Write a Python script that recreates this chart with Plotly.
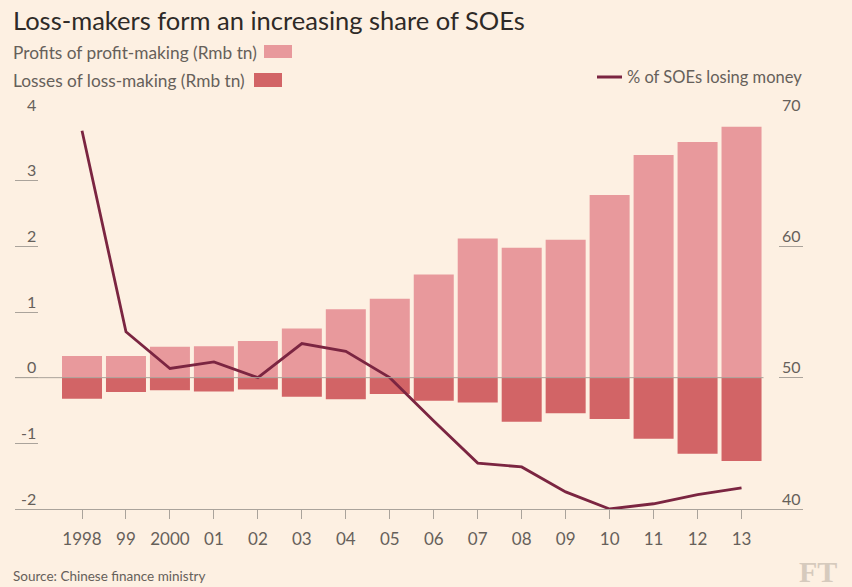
import plotly.graph_objects as go

# ---- data ----
years = ["1998", "99", "2000", "01", "02", "03", "04", "05",
         "06", "07", "08", "09", "10", "11", "12", "13"]
profits = [0.33, 0.33, 0.47, 0.48, 0.56, 0.75, 1.04, 1.20,
           1.57, 2.12, 1.98, 2.10, 2.78, 3.39, 3.59, 3.82]
losses = [-0.32, -0.22, -0.19, -0.21, -0.18, -0.29, -0.33, -0.25,
          -0.35, -0.38, -0.67, -0.54, -0.63, -0.93, -1.16, -1.27]
pct_losing = [68.8, 53.5, 50.7, 51.2, 50.0, 52.6, 52.0, 50.0,
              46.7, 43.5, 43.2, 41.3, 40.0, 40.4, 41.1, 41.6]
left_ticks = [-2, -1, 0, 1, 2, 3, 4]
right_ticks = [40, 50, 60, 70]

title = "Loss-makers form an increasing share of SOEs"
profit_label = "Profits of profit-making (Rmb tn)"
loss_label = "Losses of loss-making (Rmb tn)"
pct_label = "% of SOEs losing money"
source = "Source: Chinese finance ministry"

# ---- style ----
W, H = 852, 587
ML, MR, MT, MB = 15, 49, 115, 78
BG = "#fdf0e2"
PROFIT_C = "#e8999c"
LOSS_C = "#d26466"
LINE_C = "#7b2541"
GRID_C = "#aaa39b"
TEXT_C = "#66605a"
FONT = "Lato"
XR = [-1.524, 16.398]


def px(x):
    return (x - ML) / (W - ML - MR)


def py(y):
    return (H - MB - y) / (H - MT - MB)


fig = go.Figure()
fig.add_trace(go.Bar(x=years, y=profits, marker=dict(color=PROFIT_C, line_width=0),
                     name=profit_label, yaxis="y"))
fig.add_trace(go.Bar(x=years, y=losses, marker=dict(color=LOSS_C, line_width=0),
                     name=loss_label, yaxis="y"))
fig.add_trace(go.Scatter(x=years, y=pct_losing, mode="lines", yaxis="y2",
                         line=dict(color=LINE_C, width=2.8), cliponaxis=False,
                         name=pct_label))

fig.update_layout(
    width=W, height=H,
    margin=dict(l=ML, r=MR, t=MT, b=MB),
    paper_bgcolor=BG, plot_bgcolor=BG,
    barmode="relative", bargap=0.09,
    showlegend=False,
    font=dict(family=FONT, color=TEXT_C),
    xaxis=dict(type="category", range=XR, showgrid=False, zeroline=False,
               showline=True, linecolor=GRID_C, linewidth=1,
               ticks="outside", ticklen=9, tickcolor=GRID_C, tickwidth=1,
               tickfont=dict(size=17, color=TEXT_C), ticklabelstandoff=6),
    yaxis=dict(range=[-2, 4], showgrid=False, zeroline=False, showline=False,
               tickvals=left_ticks, ticks="inside", ticklen=23,
               tickcolor=GRID_C, tickwidth=1, showticklabels=False),
    yaxis2=dict(range=[40, 70], overlaying="y", side="right", showgrid=False,
                zeroline=False, showline=False, tickvals=right_ticks,
                ticks="inside", ticklen=24, tickcolor=GRID_C, tickwidth=1,
                showticklabels=False),
)

# zero line across the bars
fig.add_shape(type="line", xref="x", yref="y", x0=XR[0], x1=15.5, y0=0, y1=0,
              line=dict(color=GRID_C, width=1), layer="above")

ann = []
for v in left_ticks:
    ann.append(dict(xref="paper", yref="y", x=px(38), y=v, yshift=11,
                    text=str(v), showarrow=False, xanchor="right", yanchor="middle",
                    font=dict(size=16, color=TEXT_C)))
for v in right_ticks:
    ann.append(dict(xref="paper", yref="y2", x=px(803), y=v, yshift=11,
                    text=str(v), showarrow=False, xanchor="right", yanchor="middle",
                    font=dict(size=16, color=TEXT_C)))

ann.append(dict(xref="paper", yref="paper", x=px(11), y=py(20), text=title,
                showarrow=False, xanchor="left", yanchor="middle",
                font=dict(size=25.5, color="#2e2a27")))
ann.append(dict(xref="paper", yref="paper", x=px(11), y=py(52), text=profit_label,
                showarrow=False, xanchor="left", yanchor="middle",
                font=dict(size=17.3, color=TEXT_C)))
ann.append(dict(xref="paper", yref="paper", x=px(11), y=py(80), text=loss_label,
                showarrow=False, xanchor="left", yanchor="middle",
                font=dict(size=17.3, color=TEXT_C)))
ann.append(dict(xref="paper", yref="paper", x=px(804), y=py(77), text=pct_label,
                showarrow=False, xanchor="right", yanchor="middle",
                font=dict(size=16.5, color=TEXT_C)))
ann.append(dict(xref="paper", yref="paper", x=px(11), y=py(576), text=source,
                showarrow=False, xanchor="left", yanchor="middle",
                font=dict(size=13.5, color=TEXT_C)))
ann.append(dict(xref="paper", yref="paper", x=px(839), y=py(571), text="<b>FT</b>",
                showarrow=False, xanchor="right", yanchor="middle",
                font=dict(size=30, color="#d6cabd", family="Liberation Serif")))
fig.update_layout(annotations=ann)

# legend swatches
fig.add_shape(type="rect", xref="paper", yref="paper", x0=px(264), x1=px(292),
              y0=py(58), y1=py(45), fillcolor=PROFIT_C, line_width=0)
fig.add_shape(type="rect", xref="paper", yref="paper", x0=px(254), x1=px(282),
              y0=py(87), y1=py(73), fillcolor=LOSS_C, line_width=0)
fig.add_shape(type="line", xref="paper", yref="paper", x0=px(597), x1=px(622),
              y0=py(77), y1=py(77), line=dict(color=LINE_C, width=3))

fig.write_html("out.html",
               config={"displayModeBar": False, "staticPlot": True},
               post_script="document.body.style.margin='0';"
                           "document.body.style.background='" + BG + "';")
